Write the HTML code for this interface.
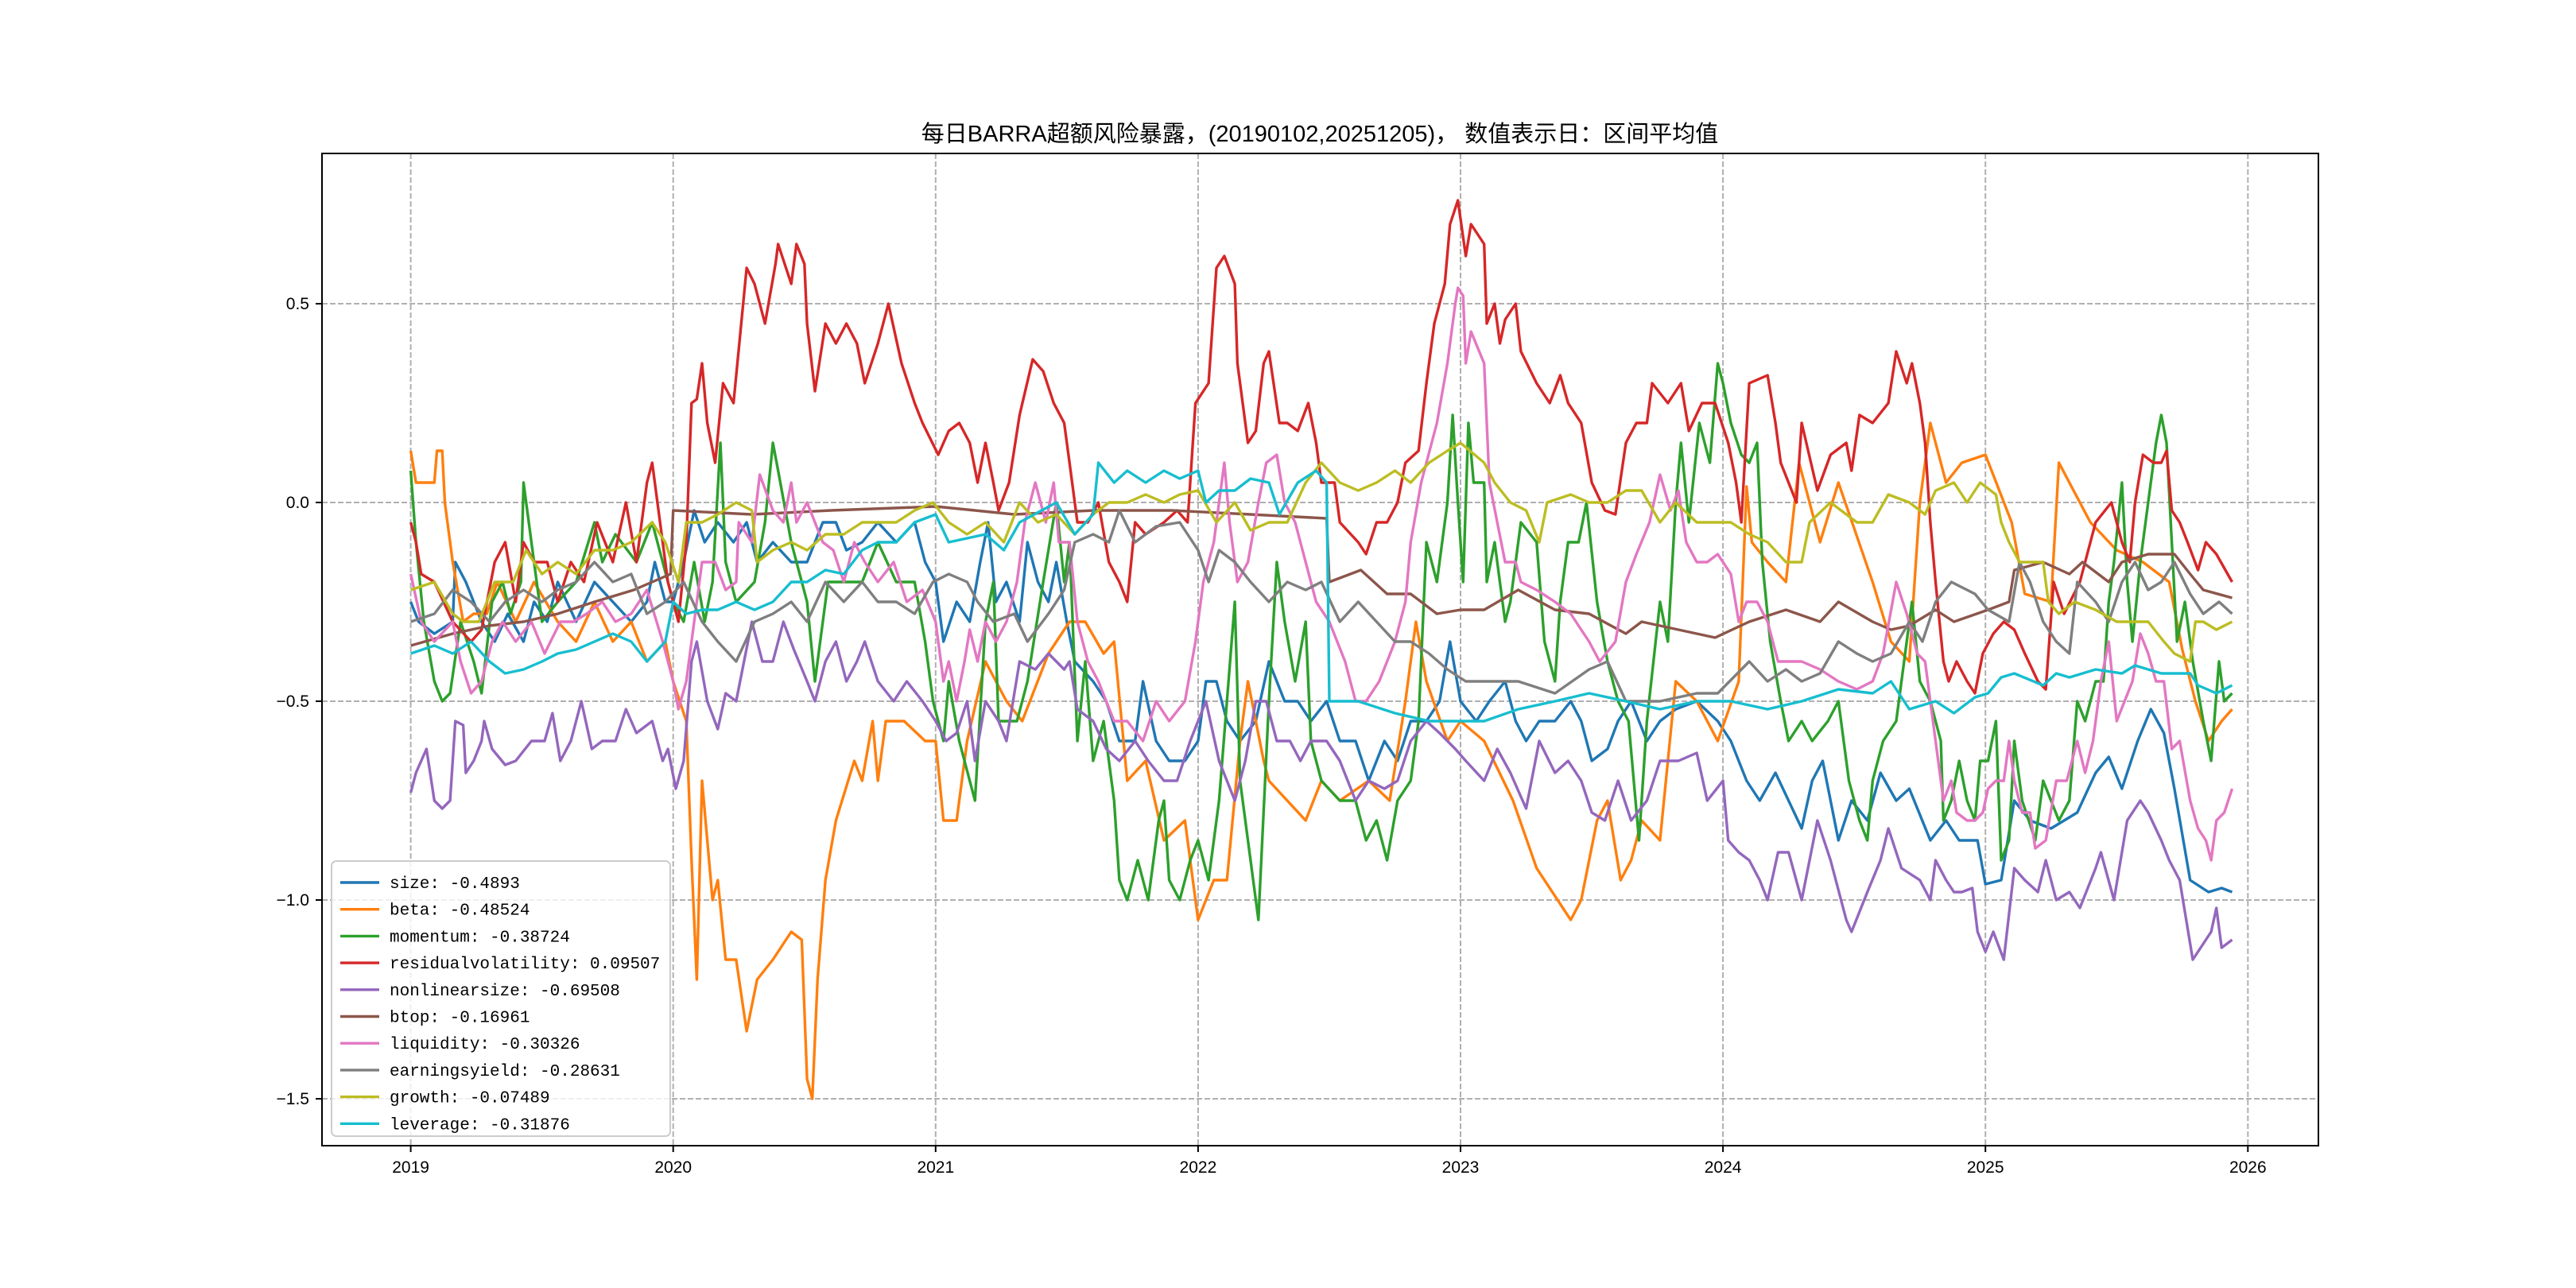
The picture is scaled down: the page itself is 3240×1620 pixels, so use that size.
<!DOCTYPE html>
<html><head><meta charset="utf-8"><style>
html,body{margin:0;padding:0;background:#fff;}
svg{display:block;}
text{font-family:"Liberation Sans","Noto Sans CJK SC",sans-serif;}
.mono{font-family:"Liberation Mono","Noto Sans CJK SC",monospace;}
</style></head><body>
<svg id="chart" width="3240" height="1620" viewBox="0 0 3240 1620" xmlns="http://www.w3.org/2000/svg">
<rect x="0" y="0" width="3240" height="1620" fill="#fff"/>
<text x="1660" y="178" font-size="29" text-anchor="middle" fill="#000">每日BARRA超额风险暴露，(20190102,20251205)， 数值表示日：区间平均值</text>
<g id="grid"></g>
<g id="ticks"></g>
<g id="series"></g>
<rect x="405" y="193" width="2511" height="1248" fill="none" stroke="#000" stroke-width="2"/>
<g id="legend"></g>
</svg>
<script>
const xTicks=[2019,2020,2021,2022,2023,2024,2025,2026];
const yTicks=[0.5,0.0,-0.5,-1.0,-1.5];
const yTickLabels=["0.5","0.0","\u22120.5","\u22121.0","\u22121.5"];
const seriesNames=["size","beta","momentum","residualvolatility","nonlinearsize","btop","liquidity","earningsyield","growth","leverage"];
const legendValues=["-0.4893","-0.48524","-0.38724","0.09507","-0.69508","-0.16961","-0.30326","-0.28631","-0.07489","-0.31876"];
const colors=["#1f77b4","#ff7f0e","#2ca02c","#d62728","#9467bd","#8c564b","#e377c2","#7f7f7f","#bcbd22","#17becf"];

const sizeData=[[2019.0,-0.25],[2019.03,-0.3],[2019.09,-0.33],[2019.16,-0.3],[2019.17,-0.15],[2019.21,-0.2],[2019.27,-0.3],[2019.32,-0.35],[2019.37,-0.28],[2019.43,-0.35],[2019.47,-0.25],[2019.52,-0.3],[2019.56,-0.2],[2019.63,-0.3],[2019.7,-0.2],[2019.77,-0.25],[2019.84,-0.3],[2019.9,-0.25],[2019.93,-0.15],[2019.97,-0.25],[2020.0,-0.25],[2020.04,-0.15],[2020.08,-0.02],[2020.12,-0.1],[2020.17,-0.05],[2020.23,-0.1],[2020.28,-0.05],[2020.32,-0.15],[2020.38,-0.1],[2020.45,-0.15],[2020.51,-0.15],[2020.57,-0.05],[2020.62,-0.05],[2020.66,-0.12],[2020.72,-0.1],[2020.78,-0.05],[2020.85,-0.1],[2020.92,-0.05],[2020.96,-0.15],[2021.0,-0.2],[2021.03,-0.35],[2021.08,-0.25],[2021.13,-0.3],[2021.17,-0.15],[2021.2,-0.05],[2021.23,-0.25],[2021.27,-0.2],[2021.32,-0.3],[2021.35,-0.1],[2021.39,-0.2],[2021.43,-0.25],[2021.46,-0.15],[2021.5,-0.3],[2021.53,-0.4],[2021.6,-0.45],[2021.65,-0.5],[2021.7,-0.6],[2021.76,-0.6],[2021.79,-0.45],[2021.84,-0.6],[2021.89,-0.65],[2021.95,-0.65],[2022.0,-0.6],[2022.03,-0.45],[2022.07,-0.45],[2022.11,-0.55],[2022.16,-0.6],[2022.22,-0.55],[2022.27,-0.4],[2022.33,-0.5],[2022.38,-0.5],[2022.43,-0.55],[2022.49,-0.5],[2022.54,-0.6],[2022.6,-0.6],[2022.65,-0.7],[2022.71,-0.6],[2022.76,-0.65],[2022.81,-0.55],[2022.87,-0.55],[2022.92,-0.5],[2022.96,-0.35],[2023.0,-0.5],[2023.06,-0.55],[2023.11,-0.5],[2023.17,-0.45],[2023.21,-0.55],[2023.25,-0.6],[2023.3,-0.55],[2023.36,-0.55],[2023.42,-0.5],[2023.46,-0.55],[2023.5,-0.65],[2023.56,-0.62],[2023.6,-0.55],[2023.65,-0.5],[2023.71,-0.6],[2023.76,-0.55],[2023.82,-0.52],[2023.9,-0.5],[2023.98,-0.55],[2024.03,-0.6],[2024.09,-0.7],[2024.14,-0.75],[2024.2,-0.68],[2024.25,-0.75],[2024.3,-0.82],[2024.34,-0.7],[2024.38,-0.65],[2024.44,-0.85],[2024.49,-0.75],[2024.55,-0.8],[2024.6,-0.68],[2024.66,-0.75],[2024.71,-0.72],[2024.79,-0.85],[2024.85,-0.8],[2024.9,-0.85],[2024.97,-0.85],[2025.0,-0.96],[2025.06,-0.95],[2025.11,-0.75],[2025.17,-0.8],[2025.25,-0.82],[2025.35,-0.78],[2025.42,-0.68],[2025.47,-0.64],[2025.52,-0.72],[2025.58,-0.6],[2025.63,-0.52],[2025.68,-0.58],[2025.72,-0.72],[2025.78,-0.95],[2025.85,-0.98],[2025.9,-0.97],[2025.94,-0.98]];
const betaData=[[2019.0,0.13],[2019.02,0.05],[2019.09,0.05],[2019.1,0.13],[2019.12,0.13],[2019.13,0.0],[2019.16,-0.15],[2019.2,-0.3],[2019.24,-0.28],[2019.29,-0.28],[2019.33,-0.2],[2019.4,-0.3],[2019.47,-0.2],[2019.56,-0.3],[2019.63,-0.35],[2019.7,-0.25],[2019.77,-0.35],[2019.84,-0.3],[2019.9,-0.4],[2019.97,-0.35],[2020.0,-0.45],[2020.05,-0.55],[2020.07,-0.9],[2020.09,-1.2],[2020.11,-0.7],[2020.15,-1.0],[2020.17,-0.95],[2020.2,-1.15],[2020.24,-1.15],[2020.28,-1.33],[2020.32,-1.2],[2020.38,-1.15],[2020.45,-1.08],[2020.49,-1.1],[2020.51,-1.45],[2020.53,-1.5],[2020.55,-1.2],[2020.58,-0.95],[2020.62,-0.8],[2020.69,-0.65],[2020.72,-0.7],[2020.76,-0.55],[2020.78,-0.7],[2020.81,-0.55],[2020.88,-0.55],[2020.96,-0.6],[2021.0,-0.6],[2021.03,-0.8],[2021.08,-0.8],[2021.12,-0.6],[2021.19,-0.4],[2021.27,-0.5],[2021.33,-0.55],[2021.43,-0.38],[2021.51,-0.3],[2021.57,-0.3],[2021.64,-0.38],[2021.68,-0.35],[2021.73,-0.7],[2021.8,-0.65],[2021.87,-0.85],[2021.95,-0.8],[2022.0,-1.05],[2022.06,-0.95],[2022.11,-0.95],[2022.16,-0.6],[2022.19,-0.45],[2022.25,-0.65],[2022.27,-0.7],[2022.34,-0.75],[2022.41,-0.8],[2022.47,-0.7],[2022.54,-0.75],[2022.65,-0.7],[2022.73,-0.75],[2022.79,-0.5],[2022.83,-0.3],[2022.87,-0.45],[2022.95,-0.6],[2023.0,-0.55],[2023.09,-0.6],[2023.2,-0.75],[2023.29,-0.92],[2023.42,-1.05],[2023.46,-1.0],[2023.52,-0.8],[2023.56,-0.75],[2023.61,-0.95],[2023.65,-0.9],[2023.69,-0.8],[2023.76,-0.85],[2023.82,-0.45],[2023.9,-0.5],[2023.98,-0.6],[2024.06,-0.45],[2024.09,0.04],[2024.11,-0.1],[2024.17,-0.15],[2024.24,-0.2],[2024.29,0.1],[2024.37,-0.1],[2024.44,0.05],[2024.57,-0.2],[2024.64,-0.35],[2024.71,-0.4],[2024.75,0.0],[2024.79,0.2],[2024.85,0.05],[2024.91,0.1],[2025.0,0.12],[2025.1,-0.05],[2025.15,-0.23],[2025.25,-0.25],[2025.28,0.1],[2025.4,-0.05],[2025.5,-0.12],[2025.6,-0.15],[2025.7,-0.2],[2025.75,-0.37],[2025.8,-0.5],[2025.85,-0.6],[2025.9,-0.55],[2025.94,-0.52]];
const momentumData=[[2019.0,0.08],[2019.02,-0.1],[2019.05,-0.3],[2019.09,-0.45],[2019.12,-0.5],[2019.15,-0.48],[2019.19,-0.3],[2019.24,-0.4],[2019.27,-0.48],[2019.31,-0.25],[2019.35,-0.2],[2019.38,-0.28],[2019.42,-0.2],[2019.43,0.05],[2019.46,-0.1],[2019.5,-0.3],[2019.56,-0.25],[2019.63,-0.2],[2019.7,-0.05],[2019.73,-0.15],[2019.78,-0.08],[2019.86,-0.15],[2019.92,-0.05],[2019.96,-0.15],[2020.0,-0.25],[2020.04,-0.3],[2020.08,-0.15],[2020.12,-0.3],[2020.15,-0.2],[2020.18,0.15],[2020.2,-0.15],[2020.24,-0.25],[2020.31,-0.2],[2020.35,-0.05],[2020.38,0.15],[2020.4,0.08],[2020.45,-0.1],[2020.51,-0.25],[2020.54,-0.45],[2020.59,-0.2],[2020.65,-0.2],[2020.72,-0.2],[2020.78,-0.1],[2020.85,-0.2],[2020.92,-0.2],[2020.96,-0.35],[2020.99,-0.5],[2021.03,-0.6],[2021.05,-0.45],[2021.09,-0.6],[2021.15,-0.75],[2021.19,-0.3],[2021.22,-0.2],[2021.24,-0.55],[2021.31,-0.55],[2021.35,-0.45],[2021.41,-0.2],[2021.46,0.0],[2021.49,-0.2],[2021.51,-0.1],[2021.54,-0.6],[2021.57,-0.4],[2021.6,-0.65],[2021.64,-0.55],[2021.68,-0.75],[2021.7,-0.95],[2021.73,-1.0],[2021.77,-0.9],[2021.81,-1.0],[2021.85,-0.8],[2021.87,-0.75],[2021.89,-0.95],[2021.93,-1.0],[2021.97,-0.9],[2022.0,-0.85],[2022.04,-0.95],[2022.08,-0.75],[2022.11,-0.5],[2022.14,-0.25],[2022.16,-0.7],[2022.2,-0.9],[2022.23,-1.05],[2022.27,-0.5],[2022.3,-0.15],[2022.33,-0.3],[2022.37,-0.45],[2022.41,-0.3],[2022.43,-0.6],[2022.47,-0.7],[2022.54,-0.75],[2022.6,-0.75],[2022.64,-0.85],[2022.68,-0.8],[2022.72,-0.9],[2022.76,-0.75],[2022.81,-0.7],[2022.84,-0.55],[2022.87,-0.1],[2022.91,-0.2],[2022.95,0.0],[2022.97,0.22],[2022.99,0.0],[2023.01,-0.2],[2023.03,0.2],[2023.05,0.05],[2023.09,0.05],[2023.1,-0.2],[2023.13,-0.1],[2023.17,-0.3],[2023.19,-0.25],[2023.23,-0.05],[2023.29,-0.1],[2023.32,-0.35],[2023.36,-0.45],[2023.38,-0.25],[2023.41,-0.1],[2023.45,-0.1],[2023.48,0.0],[2023.52,-0.25],[2023.56,-0.4],[2023.6,-0.5],[2023.64,-0.55],[2023.68,-0.85],[2023.71,-0.55],[2023.76,-0.25],[2023.79,-0.35],[2023.82,0.0],[2023.84,0.15],[2023.87,-0.05],[2023.91,0.2],[2023.95,0.1],[2023.98,0.35],[2024.0,0.3],[2024.03,0.2],[2024.07,0.12],[2024.1,0.1],[2024.13,0.15],[2024.15,-0.15],[2024.18,-0.35],[2024.22,-0.5],[2024.25,-0.6],[2024.3,-0.55],[2024.34,-0.6],[2024.4,-0.55],[2024.44,-0.5],[2024.48,-0.7],[2024.52,-0.8],[2024.55,-0.85],[2024.57,-0.7],[2024.61,-0.6],[2024.66,-0.55],[2024.7,-0.35],[2024.72,-0.25],[2024.75,-0.45],[2024.79,-0.5],[2024.83,-0.6],[2024.84,-0.8],[2024.87,-0.75],[2024.9,-0.65],[2024.93,-0.75],[2024.96,-0.8],[2024.98,-0.65],[2025.01,-0.65],[2025.04,-0.55],[2025.06,-0.9],[2025.09,-0.85],[2025.11,-0.6],[2025.14,-0.75],[2025.19,-0.85],[2025.22,-0.7],[2025.25,-0.75],[2025.28,-0.8],[2025.32,-0.75],[2025.35,-0.5],[2025.38,-0.55],[2025.42,-0.45],[2025.45,-0.45],[2025.47,-0.25],[2025.49,-0.15],[2025.52,0.05],[2025.54,-0.2],[2025.56,-0.35],[2025.59,-0.15],[2025.62,0.0],[2025.65,0.15],[2025.67,0.22],[2025.69,0.15],[2025.71,-0.1],[2025.73,-0.35],[2025.76,-0.25],[2025.79,-0.4],[2025.83,-0.55],[2025.86,-0.65],[2025.89,-0.4],[2025.91,-0.5],[2025.94,-0.48]];
const resvolData=[[2019.0,-0.05],[2019.02,-0.1],[2019.04,-0.18],[2019.09,-0.2],[2019.16,-0.3],[2019.23,-0.35],[2019.27,-0.32],[2019.32,-0.15],[2019.36,-0.1],[2019.4,-0.25],[2019.43,-0.1],[2019.47,-0.15],[2019.52,-0.15],[2019.56,-0.25],[2019.61,-0.15],[2019.66,-0.2],[2019.71,-0.05],[2019.77,-0.15],[2019.82,0.0],[2019.86,-0.15],[2019.9,0.05],[2019.92,0.1],[2019.96,-0.1],[2019.98,-0.2],[2020.02,-0.3],[2020.05,-0.1],[2020.07,0.25],[2020.09,0.26],[2020.11,0.35],[2020.13,0.2],[2020.16,0.1],[2020.19,0.3],[2020.23,0.25],[2020.28,0.59],[2020.31,0.55],[2020.35,0.45],[2020.39,0.6],[2020.4,0.65],[2020.45,0.55],[2020.47,0.65],[2020.5,0.6],[2020.51,0.45],[2020.54,0.28],[2020.58,0.45],[2020.62,0.4],[2020.66,0.45],[2020.7,0.4],[2020.73,0.3],[2020.78,0.4],[2020.82,0.5],[2020.87,0.35],[2020.92,0.25],[2020.95,0.2],[2021.01,0.12],[2021.05,0.18],[2021.09,0.2],[2021.13,0.15],[2021.16,0.05],[2021.19,0.15],[2021.22,0.05],[2021.24,-0.02],[2021.28,0.05],[2021.32,0.22],[2021.37,0.36],[2021.41,0.33],[2021.45,0.25],[2021.49,0.2],[2021.51,0.1],[2021.54,-0.05],[2021.58,-0.05],[2021.62,0.0],[2021.66,-0.15],[2021.7,-0.2],[2021.73,-0.25],[2021.76,-0.05],[2021.8,-0.08],[2021.87,-0.05],[2021.92,-0.02],[2021.96,-0.05],[2021.99,0.25],[2022.04,0.3],[2022.07,0.59],[2022.1,0.62],[2022.14,0.55],[2022.15,0.35],[2022.19,0.15],[2022.22,0.18],[2022.25,0.35],[2022.27,0.38],[2022.31,0.2],[2022.34,0.2],[2022.38,0.18],[2022.42,0.25],[2022.45,0.15],[2022.47,0.05],[2022.52,0.05],[2022.54,-0.05],[2022.61,-0.1],[2022.64,-0.13],[2022.68,-0.05],[2022.72,-0.05],[2022.76,0.0],[2022.79,0.1],[2022.84,0.13],[2022.87,0.3],[2022.9,0.45],[2022.94,0.55],[2022.96,0.7],[2022.99,0.76],[2023.02,0.62],[2023.04,0.7],[2023.09,0.65],[2023.1,0.45],[2023.13,0.5],[2023.15,0.4],[2023.17,0.46],[2023.21,0.5],[2023.23,0.38],[2023.29,0.3],[2023.34,0.25],[2023.38,0.32],[2023.41,0.25],[2023.46,0.2],[2023.5,0.05],[2023.55,-0.02],[2023.59,-0.03],[2023.63,0.15],[2023.67,0.2],[2023.71,0.2],[2023.73,0.3],[2023.79,0.25],[2023.84,0.3],[2023.87,0.18],[2023.92,0.25],[2023.97,0.25],[2024.02,0.15],[2024.05,0.05],[2024.07,-0.05],[2024.1,0.3],[2024.17,0.32],[2024.2,0.2],[2024.22,0.1],[2024.28,0.0],[2024.3,0.2],[2024.36,0.03],[2024.41,0.12],[2024.47,0.15],[2024.49,0.08],[2024.52,0.22],[2024.57,0.2],[2024.63,0.25],[2024.66,0.38],[2024.7,0.3],[2024.72,0.35],[2024.75,0.25],[2024.77,0.15],[2024.79,-0.05],[2024.81,-0.2],[2024.84,-0.4],[2024.86,-0.45],[2024.89,-0.4],[2024.93,-0.45],[2024.96,-0.48],[2024.99,-0.38],[2025.03,-0.33],[2025.07,-0.3],[2025.11,-0.32],[2025.15,-0.38],[2025.2,-0.45],[2025.23,-0.47],[2025.26,-0.2],[2025.3,-0.28],[2025.36,-0.2],[2025.42,-0.05],[2025.48,0.0],[2025.52,-0.1],[2025.55,-0.15],[2025.57,0.0],[2025.6,0.12],[2025.64,0.1],[2025.67,0.1],[2025.69,0.13],[2025.71,-0.02],[2025.74,-0.05],[2025.77,-0.1],[2025.81,-0.17],[2025.84,-0.1],[2025.88,-0.13],[2025.94,-0.2]];
const nlsizeData=[[2019.0,-0.73],[2019.02,-0.68],[2019.06,-0.62],[2019.09,-0.75],[2019.12,-0.77],[2019.15,-0.75],[2019.17,-0.55],[2019.2,-0.56],[2019.21,-0.68],[2019.24,-0.65],[2019.27,-0.6],[2019.28,-0.55],[2019.31,-0.62],[2019.36,-0.66],[2019.4,-0.65],[2019.46,-0.6],[2019.51,-0.6],[2019.54,-0.53],[2019.57,-0.65],[2019.61,-0.6],[2019.65,-0.5],[2019.69,-0.62],[2019.73,-0.6],[2019.78,-0.6],[2019.82,-0.52],[2019.86,-0.58],[2019.92,-0.55],[2019.96,-0.65],[2019.98,-0.62],[2020.01,-0.72],[2020.04,-0.65],[2020.07,-0.4],[2020.09,-0.35],[2020.13,-0.5],[2020.17,-0.57],[2020.2,-0.48],[2020.24,-0.5],[2020.3,-0.3],[2020.34,-0.4],[2020.38,-0.4],[2020.42,-0.3],[2020.46,-0.37],[2020.51,-0.45],[2020.54,-0.5],[2020.58,-0.4],[2020.62,-0.35],[2020.66,-0.45],[2020.7,-0.4],[2020.73,-0.35],[2020.78,-0.45],[2020.84,-0.5],[2020.89,-0.45],[2020.95,-0.5],[2021.0,-0.55],[2021.04,-0.6],[2021.08,-0.58],[2021.12,-0.5],[2021.15,-0.65],[2021.19,-0.5],[2021.24,-0.55],[2021.27,-0.6],[2021.32,-0.4],[2021.38,-0.42],[2021.43,-0.38],[2021.49,-0.42],[2021.51,-0.4],[2021.54,-0.52],[2021.6,-0.55],[2021.65,-0.62],[2021.7,-0.65],[2021.76,-0.6],[2021.81,-0.65],[2021.87,-0.7],[2021.92,-0.7],[2021.97,-0.6],[2022.03,-0.5],[2022.08,-0.65],[2022.14,-0.75],[2022.18,-0.65],[2022.22,-0.5],[2022.26,-0.5],[2022.3,-0.6],[2022.35,-0.6],[2022.39,-0.65],[2022.43,-0.6],[2022.49,-0.6],[2022.54,-0.65],[2022.6,-0.75],[2022.65,-0.7],[2022.71,-0.72],[2022.76,-0.7],[2022.81,-0.6],[2022.87,-0.55],[2022.92,-0.58],[2022.98,-0.62],[2023.02,-0.65],[2023.09,-0.7],[2023.14,-0.62],[2023.19,-0.68],[2023.25,-0.77],[2023.3,-0.6],[2023.36,-0.68],[2023.41,-0.65],[2023.46,-0.7],[2023.5,-0.78],[2023.55,-0.8],[2023.6,-0.7],[2023.65,-0.8],[2023.71,-0.75],[2023.76,-0.65],[2023.83,-0.65],[2023.9,-0.63],[2023.94,-0.75],[2024.0,-0.7],[2024.02,-0.85],[2024.06,-0.88],[2024.1,-0.9],[2024.14,-0.95],[2024.17,-1.0],[2024.21,-0.88],[2024.25,-0.88],[2024.3,-1.0],[2024.36,-0.8],[2024.41,-0.9],[2024.47,-1.05],[2024.49,-1.08],[2024.55,-0.98],[2024.6,-0.9],[2024.63,-0.82],[2024.68,-0.92],[2024.75,-0.95],[2024.79,-1.0],[2024.81,-0.9],[2024.85,-0.95],[2024.88,-0.98],[2024.91,-0.98],[2024.95,-0.97],[2024.97,-1.08],[2025.0,-1.13],[2025.03,-1.08],[2025.07,-1.15],[2025.11,-0.92],[2025.15,-0.95],[2025.2,-0.98],[2025.23,-0.9],[2025.27,-1.0],[2025.32,-0.98],[2025.36,-1.02],[2025.42,-0.92],[2025.44,-0.88],[2025.49,-1.0],[2025.54,-0.8],[2025.59,-0.75],[2025.62,-0.78],[2025.67,-0.85],[2025.7,-0.9],[2025.74,-0.95],[2025.79,-1.15],[2025.82,-1.12],[2025.86,-1.08],[2025.88,-1.02],[2025.9,-1.12],[2025.94,-1.1]];
const btopData=[[2019.0,-0.36],[2019.16,-0.33],[2019.3,-0.31],[2019.43,-0.3],[2019.56,-0.28],[2019.7,-0.25],[2019.85,-0.22],[2019.99,-0.18],[2020.0,-0.02],[2020.3,-0.03],[2020.6,-0.02],[2021.0,-0.01],[2021.3,-0.03],[2021.6,-0.02],[2021.9,-0.02],[2022.2,-0.03],[2022.49,-0.04],[2022.5,-0.2],[2022.62,-0.17],[2022.72,-0.23],[2022.81,-0.23],[2022.91,-0.28],[2023.0,-0.27],[2023.09,-0.27],[2023.22,-0.22],[2023.36,-0.27],[2023.49,-0.28],[2023.63,-0.33],[2023.69,-0.3],[2023.83,-0.32],[2023.97,-0.34],[2024.1,-0.3],[2024.24,-0.27],[2024.37,-0.3],[2024.44,-0.25],[2024.57,-0.3],[2024.64,-0.32],[2024.71,-0.31],[2024.81,-0.27],[2024.88,-0.3],[2025.01,-0.27],[2025.09,-0.25],[2025.11,-0.17],[2025.22,-0.15],[2025.32,-0.18],[2025.37,-0.15],[2025.47,-0.2],[2025.52,-0.15],[2025.62,-0.13],[2025.72,-0.13],[2025.78,-0.18],[2025.83,-0.22],[2025.94,-0.24]];
const liqData=[[2019.0,-0.18],[2019.04,-0.3],[2019.09,-0.35],[2019.16,-0.3],[2019.19,-0.4],[2019.23,-0.48],[2019.27,-0.45],[2019.31,-0.35],[2019.35,-0.3],[2019.4,-0.35],[2019.46,-0.3],[2019.51,-0.38],[2019.57,-0.3],[2019.62,-0.3],[2019.67,-0.28],[2019.73,-0.25],[2019.78,-0.3],[2019.84,-0.28],[2019.9,-0.22],[2019.96,-0.35],[2020.0,-0.45],[2020.02,-0.52],[2020.05,-0.45],[2020.08,-0.3],[2020.11,-0.15],[2020.16,-0.15],[2020.2,-0.22],[2020.24,-0.2],[2020.25,-0.05],[2020.3,-0.1],[2020.33,0.07],[2020.38,-0.02],[2020.42,-0.05],[2020.45,0.05],[2020.47,-0.05],[2020.51,0.0],[2020.57,-0.1],[2020.61,-0.12],[2020.65,-0.2],[2020.69,-0.1],[2020.73,-0.15],[2020.78,-0.2],[2020.84,-0.15],[2020.89,-0.25],[2020.95,-0.22],[2021.0,-0.3],[2021.03,-0.45],[2021.05,-0.4],[2021.08,-0.5],[2021.11,-0.4],[2021.13,-0.32],[2021.16,-0.4],[2021.19,-0.3],[2021.23,-0.35],[2021.27,-0.3],[2021.31,-0.2],[2021.34,-0.05],[2021.38,0.05],[2021.42,-0.05],[2021.45,0.05],[2021.47,-0.1],[2021.51,-0.1],[2021.54,-0.3],[2021.58,-0.4],[2021.62,-0.45],[2021.68,-0.55],[2021.73,-0.55],[2021.79,-0.6],[2021.84,-0.5],[2021.89,-0.55],[2021.95,-0.5],[2021.99,-0.35],[2022.02,-0.2],[2022.06,-0.1],[2022.1,0.1],[2022.12,-0.05],[2022.15,-0.2],[2022.19,-0.15],[2022.23,0.0],[2022.26,0.1],[2022.3,0.12],[2022.33,0.0],[2022.37,-0.05],[2022.41,-0.15],[2022.45,-0.25],[2022.5,-0.3],[2022.56,-0.4],[2022.6,-0.5],[2022.64,-0.5],[2022.69,-0.45],[2022.75,-0.35],[2022.79,-0.25],[2022.81,-0.1],[2022.85,0.05],[2022.91,0.2],[2022.95,0.35],[2022.98,0.5],[2022.99,0.54],[2023.01,0.52],[2023.02,0.35],[2023.04,0.43],[2023.09,0.35],[2023.11,0.05],[2023.14,-0.05],[2023.17,-0.15],[2023.21,-0.15],[2023.23,-0.2],[2023.29,-0.22],[2023.36,-0.25],[2023.42,-0.28],[2023.49,-0.35],[2023.53,-0.4],[2023.59,-0.35],[2023.63,-0.2],[2023.67,-0.13],[2023.72,-0.05],[2023.76,0.07],[2023.8,-0.02],[2023.83,0.03],[2023.86,-0.1],[2023.9,-0.15],[2023.94,-0.15],[2023.98,-0.13],[2024.03,-0.18],[2024.06,-0.3],[2024.09,-0.25],[2024.13,-0.25],[2024.17,-0.3],[2024.21,-0.4],[2024.26,-0.4],[2024.3,-0.4],[2024.37,-0.42],[2024.44,-0.45],[2024.51,-0.47],[2024.57,-0.45],[2024.61,-0.38],[2024.66,-0.2],[2024.7,-0.28],[2024.74,-0.38],[2024.77,-0.4],[2024.8,-0.55],[2024.82,-0.65],[2024.84,-0.75],[2024.87,-0.7],[2024.89,-0.78],[2024.93,-0.8],[2024.96,-0.8],[2024.99,-0.78],[2025.01,-0.72],[2025.04,-0.7],[2025.07,-0.7],[2025.09,-0.6],[2025.11,-0.7],[2025.14,-0.78],[2025.17,-0.78],[2025.19,-0.87],[2025.23,-0.85],[2025.27,-0.7],[2025.31,-0.7],[2025.35,-0.6],[2025.38,-0.68],[2025.41,-0.6],[2025.44,-0.45],[2025.47,-0.35],[2025.5,-0.55],[2025.53,-0.5],[2025.56,-0.45],[2025.59,-0.33],[2025.62,-0.38],[2025.65,-0.45],[2025.68,-0.45],[2025.71,-0.62],[2025.74,-0.6],[2025.78,-0.75],[2025.81,-0.82],[2025.84,-0.85],[2025.86,-0.9],[2025.88,-0.8],[2025.91,-0.78],[2025.94,-0.72]];
const eyData=[[2019.0,-0.3],[2019.09,-0.28],[2019.16,-0.22],[2019.23,-0.25],[2019.3,-0.3],[2019.36,-0.25],[2019.43,-0.22],[2019.5,-0.25],[2019.56,-0.22],[2019.63,-0.2],[2019.7,-0.15],[2019.77,-0.2],[2019.84,-0.18],[2019.9,-0.28],[2019.97,-0.25],[2020.04,-0.2],[2020.11,-0.3],[2020.17,-0.35],[2020.24,-0.4],[2020.31,-0.3],[2020.38,-0.28],[2020.45,-0.25],[2020.51,-0.3],[2020.58,-0.2],[2020.65,-0.25],[2020.72,-0.2],[2020.78,-0.25],[2020.85,-0.25],[2020.92,-0.28],[2020.99,-0.2],[2021.05,-0.18],[2021.12,-0.2],[2021.16,-0.25],[2021.22,-0.3],[2021.3,-0.28],[2021.35,-0.35],[2021.43,-0.28],[2021.49,-0.22],[2021.53,-0.1],[2021.6,-0.08],[2021.66,-0.1],[2021.7,-0.02],[2021.76,-0.1],[2021.84,-0.06],[2021.93,-0.05],[2022.0,-0.12],[2022.04,-0.2],[2022.08,-0.12],[2022.14,-0.15],[2022.2,-0.2],[2022.27,-0.25],[2022.34,-0.2],[2022.41,-0.22],[2022.47,-0.2],[2022.54,-0.3],[2022.61,-0.25],[2022.68,-0.3],[2022.75,-0.35],[2022.81,-0.35],[2022.88,-0.38],[2022.95,-0.42],[2023.02,-0.45],[2023.09,-0.45],[2023.22,-0.45],[2023.36,-0.48],[2023.49,-0.42],[2023.56,-0.4],[2023.63,-0.5],[2023.76,-0.5],[2023.9,-0.48],[2023.98,-0.48],[2024.1,-0.4],[2024.17,-0.45],[2024.24,-0.42],[2024.3,-0.45],[2024.37,-0.43],[2024.44,-0.35],[2024.51,-0.38],[2024.57,-0.4],[2024.64,-0.38],[2024.71,-0.3],[2024.76,-0.35],[2024.81,-0.25],[2024.87,-0.2],[2024.96,-0.23],[2025.01,-0.27],[2025.09,-0.3],[2025.13,-0.15],[2025.17,-0.2],[2025.22,-0.3],[2025.27,-0.35],[2025.32,-0.38],[2025.35,-0.2],[2025.42,-0.25],[2025.47,-0.3],[2025.52,-0.2],[2025.57,-0.15],[2025.62,-0.22],[2025.67,-0.2],[2025.72,-0.15],[2025.78,-0.23],[2025.83,-0.28],[2025.89,-0.25],[2025.94,-0.28]];
const growthData=[[2019.0,-0.22],[2019.09,-0.2],[2019.16,-0.28],[2019.2,-0.3],[2019.26,-0.3],[2019.32,-0.2],[2019.39,-0.2],[2019.44,-0.12],[2019.5,-0.18],[2019.56,-0.15],[2019.63,-0.18],[2019.7,-0.12],[2019.77,-0.12],[2019.84,-0.1],[2019.92,-0.05],[2019.97,-0.1],[2020.02,-0.2],[2020.05,-0.05],[2020.11,-0.05],[2020.17,-0.03],[2020.24,0.0],[2020.3,-0.02],[2020.32,-0.15],[2020.38,-0.12],[2020.45,-0.1],[2020.51,-0.12],[2020.58,-0.08],[2020.65,-0.08],[2020.72,-0.05],[2020.78,-0.05],[2020.85,-0.05],[2020.92,-0.02],[2020.99,0.0],[2021.05,-0.05],[2021.12,-0.08],[2021.19,-0.05],[2021.26,-0.1],[2021.32,0.0],[2021.39,-0.05],[2021.46,-0.03],[2021.53,-0.08],[2021.6,-0.03],[2021.66,0.0],[2021.73,0.0],[2021.8,0.02],[2021.87,0.0],[2021.93,0.02],[2022.0,0.03],[2022.07,-0.05],[2022.14,0.0],[2022.2,-0.07],[2022.27,-0.05],[2022.34,-0.05],[2022.41,0.05],[2022.47,0.1],[2022.54,0.05],[2022.61,0.03],[2022.68,0.05],[2022.75,0.08],[2022.81,0.05],[2022.88,0.1],[2022.95,0.13],[2023.0,0.15],[2023.09,0.1],[2023.13,0.05],[2023.19,0.0],[2023.25,-0.02],[2023.3,-0.1],[2023.33,0.0],[2023.42,0.02],[2023.49,0.0],[2023.56,0.0],[2023.63,0.03],[2023.69,0.03],[2023.76,-0.05],[2023.82,0.0],[2023.9,-0.05],[2023.98,-0.05],[2024.03,-0.05],[2024.1,-0.08],[2024.17,-0.1],[2024.24,-0.15],[2024.3,-0.15],[2024.33,-0.05],[2024.41,0.0],[2024.51,-0.05],[2024.57,-0.05],[2024.63,0.02],[2024.71,0.0],[2024.77,-0.03],[2024.81,0.03],[2024.88,0.05],[2024.93,0.0],[2024.98,0.05],[2025.04,0.02],[2025.06,-0.05],[2025.09,-0.1],[2025.13,-0.15],[2025.22,-0.15],[2025.24,-0.25],[2025.28,-0.28],[2025.34,-0.25],[2025.42,-0.27],[2025.5,-0.3],[2025.55,-0.3],[2025.62,-0.3],[2025.68,-0.35],[2025.72,-0.38],[2025.78,-0.4],[2025.8,-0.3],[2025.83,-0.3],[2025.88,-0.32],[2025.94,-0.3]];
const levData=[[2019.0,-0.38],[2019.09,-0.36],[2019.16,-0.38],[2019.23,-0.35],[2019.3,-0.4],[2019.36,-0.43],[2019.43,-0.42],[2019.5,-0.4],[2019.56,-0.38],[2019.63,-0.37],[2019.7,-0.35],[2019.77,-0.33],[2019.84,-0.35],[2019.9,-0.4],[2019.97,-0.35],[2020.0,-0.25],[2020.05,-0.28],[2020.11,-0.27],[2020.17,-0.27],[2020.24,-0.25],[2020.31,-0.27],[2020.38,-0.25],[2020.45,-0.2],[2020.51,-0.2],[2020.58,-0.17],[2020.65,-0.18],[2020.72,-0.12],[2020.78,-0.1],[2020.85,-0.1],[2020.92,-0.05],[2021.0,-0.03],[2021.05,-0.1],[2021.19,-0.08],[2021.26,-0.12],[2021.32,-0.05],[2021.46,0.0],[2021.53,-0.08],[2021.6,-0.03],[2021.62,0.1],[2021.68,0.05],[2021.73,0.08],[2021.8,0.05],[2021.87,0.08],[2021.93,0.06],[2022.0,0.08],[2022.03,0.0],[2022.08,0.03],[2022.14,0.03],[2022.2,0.06],[2022.27,0.05],[2022.31,-0.03],[2022.38,0.05],[2022.45,0.08],[2022.49,0.05],[2022.5,-0.5],[2022.61,-0.5],[2022.75,-0.53],[2022.88,-0.55],[2023.02,-0.55],[2023.09,-0.55],[2023.22,-0.52],[2023.36,-0.5],[2023.49,-0.48],[2023.63,-0.5],[2023.76,-0.52],[2023.9,-0.5],[2024.03,-0.5],[2024.17,-0.52],[2024.3,-0.5],[2024.44,-0.47],[2024.57,-0.48],[2024.64,-0.45],[2024.71,-0.52],[2024.81,-0.5],[2024.88,-0.53],[2024.96,-0.49],[2025.01,-0.48],[2025.06,-0.44],[2025.11,-0.43],[2025.22,-0.46],[2025.27,-0.43],[2025.32,-0.44],[2025.42,-0.42],[2025.52,-0.43],[2025.57,-0.41],[2025.67,-0.43],[2025.78,-0.43],[2025.81,-0.46],[2025.88,-0.48],[2025.94,-0.46]];

const allSeries=[sizeData,betaData,momentumData,resvolData,nlsizeData,btopData,liqData,eyData,growthData,levData];

const AX={left:405,right:2916,top:193,bottom:1441};
function xScale(yr){return 516.6+(yr-2019)*330.1;}
function yScale(v){return 632-500*v;}
const NS="http://www.w3.org/2000/svg";
function mk(tag,parent,attrs){const e=document.createElementNS(NS,tag);for(const k in attrs)e.setAttribute(k,attrs[k]);parent.appendChild(e);return e;}

const grid=document.getElementById('grid'),ticks=document.getElementById('ticks');
xTicks.forEach(t=>{
  const x=xScale(t);
  const gl=mk('line',grid,{x1:x,x2:x,y1:AX.top,y2:AX.bottom,stroke:'#b0b0b0','stroke-width':2,'stroke-dasharray':'7,3'});
  
  
  const tk=mk('line',ticks,{x1:x,x2:x,y1:AX.bottom,y2:AX.bottom+8,stroke:'#000','stroke-width':2});
  
  
  const lb=mk('text',ticks,{x:x,y:AX.bottom+34,'font-size':21,'text-anchor':'middle',fill:'#000'});
  lb.textContent=String(t);
  
  
});
yTicks.forEach((t,i)=>{
  const y=yScale(t);
  const gl=mk('line',grid,{x1:AX.left,x2:AX.right,y1:y,y2:y,stroke:'#b0b0b0','stroke-width':2,'stroke-dasharray':'7,3'});
  
  
  const tk=mk('line',ticks,{x1:AX.left-8,x2:AX.left,y1:y,y2:y,stroke:'#000','stroke-width':2});
  
  
  const lb=mk('text',ticks,{x:AX.left-16,y:y+7,'font-size':21,'text-anchor':'end',fill:'#000'});
  lb.textContent=yTickLabels[i];
  
  
});

const sg=document.getElementById('series');
allSeries.forEach((data,i)=>{
  const d=data.map((p,j)=>(j?'L':'M')+xScale(p[0]).toFixed(1)+','+yScale(p[1]).toFixed(1)).join('');
  const pth=mk('path',sg,{d:d,fill:'none',stroke:colors[i],'stroke-width':3.4,'stroke-linejoin':'round'});
  
  
});

const lg=document.getElementById('legend');
const box=mk('rect',lg,{x:417,y:1083,width:426,height:346,rx:6,fill:'#fff','fill-opacity':0.8,stroke:'#cccccc','stroke-width':2});


seriesNames.forEach((n,i)=>{
  const y=1110+i*33.7;
  const ln=mk('line',lg,{x1:428,x2:477,y1:y,y2:y,stroke:colors[i],'stroke-width':3.4});
  
  
  const tx=mk('text',lg,{x:490,y:y+7,'font-size':21,fill:'#000','class':'mono'});
  tx.textContent=n+': '+legendValues[i];
  
  
});
</script>
</body></html>
